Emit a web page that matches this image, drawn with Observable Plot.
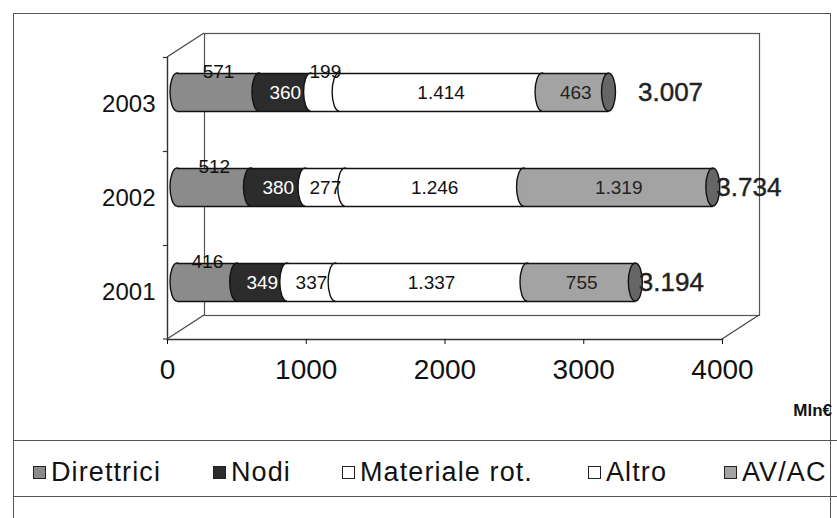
<!DOCTYPE html>
<html>
<head>
<meta charset="utf-8">
<script src="https://cdn.jsdelivr.net/npm/d3@7"></script>
<script src="https://cdn.jsdelivr.net/npm/@observablehq/plot@0.6"></script>
<style>
  body { margin: 0; background: #fff; font-family: "Liberation Sans", Arial, sans-serif; }
  #wrap { position: relative; width: 837px; height: 518px; overflow: hidden; background: #fff; }
  #frame { position: absolute; left: 13px; top: 13px; width: 818px; height: 600px; border: 1.5px solid #555; border-bottom: none; box-sizing: border-box; }
  .layer { position: absolute; left: 0; top: 0; }
  #unit { position: absolute; right: 5px; top: 401px; font-weight: bold; font-size: 17px; color: #111; }
  #legend { position: absolute; left: 13px; top: 440px; width: 824px; height: 57px; border-top: 1.5px solid #555; border-bottom: 1.5px solid #555; box-sizing: border-box; }
  .item { position: absolute; top: 16px; display: flex; align-items: center; font-size: 27px; letter-spacing: 1.1px; color: #111; white-space: nowrap; }
  .sw { width: 13px; height: 13px; border: 1.3px solid #222; margin-right: 5px; box-sizing: border-box; }
</style>
</head>
<body>
<div id="wrap">
  <div id="frame"></div>
  <div id="front" class="layer"></div>
  <div id="bars" class="layer"></div>
  <div id="unit"></div>
  <div id="legend"></div>
</div>
<script>
// ---- data ----
const years = ["2003", "2002", "2001"];
const seriesNames = ["Direttrici", "Nodi", "Materiale rot.", "Altro", "AV/AC"];
const direttrici = [571, 512, 416];
const nodi = [360, 380, 349];
const materiale = [199, 277, 337];
const altro = [1414, 1246, 1337];
const avac = [463, 1319, 755];
const totals = [3007, 3734, 3194];
const xTicks = [0, 1000, 2000, 3000, 4000];
const unitLabel = "Mln€";

// ---- styles ----
const colors = ["#8b8b8b", "#2c2c2c", "#ffffff", "#ffffff", "#a3a3a3"];
const labelColors = ["#111", "#fff", "#111", "#111", "#222"];
const capColor = "#666666";
const fmt = d3.formatLocale({decimal: ",", thousands: ".", grouping: [3], currency: ["", "€"]}).format(",d");

const seriesValues = [direttrici, nodi, materiale, altro, avac];
const rows = [];
years.forEach((year, i) => {
  let acc = 0;
  seriesValues.forEach((vals, s) => {
    const v = vals[i];
    rows.push({year, s, series: seriesNames[s], value: v, x1: acc, x2: acc + v});
    acc += v;
  });
});
const totalRows = years.map((year, i) => ({year, total: totals[i]}));

const W = 837, H = 420;
const font = "Liberation Sans, Arial, sans-serif";

// ---- front plane: walls, floor, axes ----
const front = Plot.plot({
  width: W, height: H,
  marginLeft: 167, marginRight: W - 722, marginTop: 57, marginBottom: H - 339,
  style: {fontFamily: font, background: "transparent", color: "#111", overflow: "visible"},
  x: {domain: [0, 4000], label: null},
  y: {type: "band", domain: years, label: null, padding: 0},
  marks: [
    Plot.frame({dx: 37, dy: -24, stroke: "#555", strokeWidth: 1.2}),
    Plot.frame({anchor: "left", stroke: "#333", strokeWidth: 1.4}),
    Plot.frame({anchor: "bottom", stroke: "#333", strokeWidth: 1.4}),
    Plot.ruleY(years.slice(0, 1), {x1: -30, x2: 0, dy: -47, stroke: "#333", strokeWidth: 1.2}),
    Plot.ruleY(years.slice(0, 2), {x1: -30, x2: 0, dy: 47, stroke: "#333", strokeWidth: 1.2}),
    Plot.axisX({ticks: xTicks, tickSize: 5, tickPadding: 15, fontSize: 28, tickFormat: d => String(d), label: null}),
    Plot.axisY({tickSize: 0, tickPadding: 12, fontSize: 24, label: null})
  ]
});
document.getElementById("front").appendChild(front);
{
  const sx = front.scale("x"), sy = front.scale("y");
  const top = sy.range[0], bottom = sy.range[1];
  const svg = d3.select(front);
  const segs = [
    [sx.apply(0), top, sx.apply(0) + 37, top - 24],
    [sx.apply(0), bottom, sx.apply(0) + 37, bottom - 24],
    [sx.apply(4000), bottom, sx.apply(4000) + 37, bottom - 24],
    [sx.apply(0) - 4, bottom, sx.apply(0), bottom]
  ];
  svg.append("g").selectAll("line").data(segs).join("line")
    .attr("x1", d => d[0]).attr("y1", d => d[1]).attr("x2", d => d[2]).attr("y2", d => d[3])
    .attr("stroke", "#444").attr("stroke-width", 1.2);
}

// ---- bars (mid-depth plane) ----
const segMarks = seriesNames.flatMap((name, s) => {
  const d = rows.filter(r => r.s === s);
  return [
    Plot.barX(d, {x1: "x1", x2: "x1", y: "year", fill: colors[s], stroke: "#111", strokeWidth: 1.4,
                  insetLeft: -7, insetRight: -7, rx: 7, ry: 19}),
    Plot.barX(d, {x1: "x1", x2: "x2", y: "year", fill: colors[s]})
  ];
});
const inside = r => !(r.s === 0 || r.value < 250);
const labelMarks = seriesNames.map((name, s) =>
  Plot.text(rows.filter(r => r.s === s && inside(r)), {
    x: d => (d.x1 + d.x2) / 2, y: "year", text: d => fmt(d.value),
    fill: labelColors[s], fontSize: 19, fontFamily: font
  })
);
const bars = Plot.plot({
  width: W, height: H,
  marginLeft: 177, marginRight: W - 751, marginTop: 44, marginBottom: H - 329,
  style: {fontFamily: font, background: "transparent", overflow: "visible"},
  x: {domain: [0, 4000], axis: null},
  y: {domain: years, axis: null, paddingInner: 0.6, paddingOuter: 0.3},
  marks: [
    ...segMarks,
    Plot.barX(totalRows, {x1: "total", x2: "total", y: "year", fill: capColor, stroke: "#111", strokeWidth: 1.4,
                          insetLeft: -7, insetRight: -7, rx: 7, ry: 19}),
    Plot.ruleY(totalRows, {y: "year", x1: 0, x2: "total", dy: -19, stroke: "#111", strokeWidth: 1.4}),
    Plot.ruleY(totalRows, {y: "year", x1: 0, x2: "total", dy: 19, stroke: "#111", strokeWidth: 1.4}),
    ...labelMarks,
    Plot.text(rows.filter(r => !inside(r)), {
      x: d => (d.x1 + d.x2) / 2, y: "year", text: d => fmt(d.value),
      dy: -15, lineAnchor: "bottom", fill: "#111", fontSize: 19, fontFamily: font
    }),
    Plot.text(totalRows.filter(d => d.year !== "2003"), {
      x: "total", y: "year", text: d => fmt(d.total), textAnchor: "start", dx: 3,
      fill: "#222", fontSize: 26, fontFamily: font, stroke: "#222", strokeWidth: 0.4
    }),
    Plot.text(totalRows.filter(d => d.year === "2003"), {
      x: "total", y: "year", text: d => fmt(d.total), textAnchor: "start", dx: 29,
      fill: "#222", fontSize: 26, fontFamily: font, stroke: "#222", strokeWidth: 0.4
    })
  ]
});
document.getElementById("bars").appendChild(bars);

// ---- unit label & legend ----
document.getElementById("unit").textContent = unitLabel;
const legendX = [33, 213, 342, 588, 724];
const legend = d3.select("#legend");
seriesNames.forEach((name, s) => {
  const it = legend.append("div").attr("class", "item").style("left", (legendX[s] - 13) + "px");
  it.append("div").attr("class", "sw").style("background", colors[s]);
  it.append("span").text(name);
});
</script>
</body>
</html>
